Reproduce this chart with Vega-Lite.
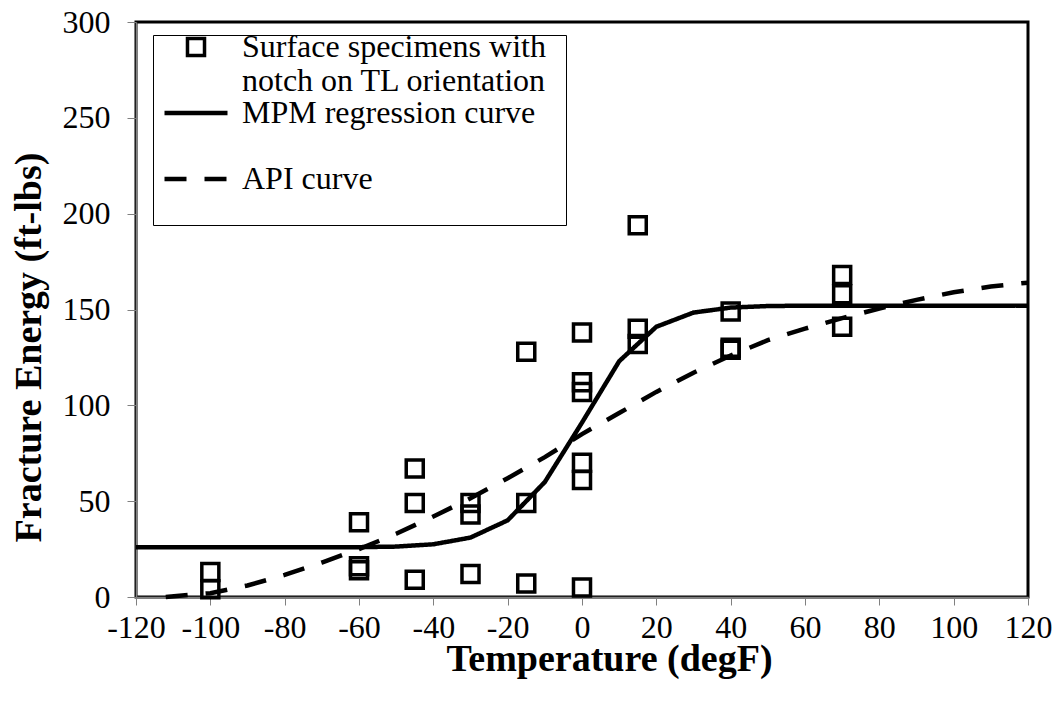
{
  "$schema": "https://vega.github.io/schema/vega-lite/v6.json",
  "width": 892,
  "height": 575,
  "autosize": "none",
  "padding": {"left": 136, "top": 22, "right": 32, "bottom": 106},
  "background": "white",
  "config": {
    "view": {"stroke": "black", "strokeWidth": 3},
    "font": "Liberation Serif",
    "axis": {
      "grid": false,
      "domainColor": "#808080",
      "domainWidth": 1.5,
      "tickColor": "#808080",
      "tickWidth": 1,
      "labelFont": "Liberation Serif",
      "labelFontSize": 32,
      "labelColor": "black",
      "labelOverlap": false,
      "labelFlush": false,
      "titleFont": "Liberation Serif",
      "titleFontSize": 38,
      "titleFontWeight": "bold",
      "titleColor": "black"
    },
    "legend": {
      "symbolSize": {"expr": "datum.value == 'Surface specimens with notch on TL orientation' ? 290 : 3969"},
      "symbolStrokeWidth": {"expr": "datum.value == 'Surface specimens with notch on TL orientation' ? 3.5 : 4.5"},
      "symbolStrokeColor": "black",
      "symbolFillColor": "transparent"
    }
  },
  "datasets": {
    "points": [
      {"series": "Surface specimens with notch on TL orientation", "temp": -100, "energy": 13},
      {"series": "Surface specimens with notch on TL orientation", "temp": -100, "energy": 4},
      {"series": "Surface specimens with notch on TL orientation", "temp": -60, "energy": 39},
      {"series": "Surface specimens with notch on TL orientation", "temp": -60, "energy": 16},
      {"series": "Surface specimens with notch on TL orientation", "temp": -60, "energy": 14},
      {"series": "Surface specimens with notch on TL orientation", "temp": -45, "energy": 67},
      {"series": "Surface specimens with notch on TL orientation", "temp": -45, "energy": 49},
      {"series": "Surface specimens with notch on TL orientation", "temp": -45, "energy": 9},
      {"series": "Surface specimens with notch on TL orientation", "temp": -30, "energy": 49},
      {"series": "Surface specimens with notch on TL orientation", "temp": -30, "energy": 43},
      {"series": "Surface specimens with notch on TL orientation", "temp": -30, "energy": 12},
      {"series": "Surface specimens with notch on TL orientation", "temp": -15, "energy": 128},
      {"series": "Surface specimens with notch on TL orientation", "temp": -15, "energy": 49},
      {"series": "Surface specimens with notch on TL orientation", "temp": -15, "energy": 7},
      {"series": "Surface specimens with notch on TL orientation", "temp": 0, "energy": 138},
      {"series": "Surface specimens with notch on TL orientation", "temp": 0, "energy": 112},
      {"series": "Surface specimens with notch on TL orientation", "temp": 0, "energy": 107},
      {"series": "Surface specimens with notch on TL orientation", "temp": 0, "energy": 70},
      {"series": "Surface specimens with notch on TL orientation", "temp": 0, "energy": 61},
      {"series": "Surface specimens with notch on TL orientation", "temp": 0, "energy": 5},
      {"series": "Surface specimens with notch on TL orientation", "temp": 15, "energy": 194},
      {"series": "Surface specimens with notch on TL orientation", "temp": 15, "energy": 140},
      {"series": "Surface specimens with notch on TL orientation", "temp": 15, "energy": 132},
      {"series": "Surface specimens with notch on TL orientation", "temp": 40, "energy": 149},
      {"series": "Surface specimens with notch on TL orientation", "temp": 40, "energy": 130},
      {"series": "Surface specimens with notch on TL orientation", "temp": 40, "energy": 129},
      {"series": "Surface specimens with notch on TL orientation", "temp": 70, "energy": 168},
      {"series": "Surface specimens with notch on TL orientation", "temp": 70, "energy": 158},
      {"series": "Surface specimens with notch on TL orientation", "temp": 70, "energy": 141}
    ],
    "curves": [
      {"series": "MPM regression curve", "temp": -120, "energy": 26},
      {"series": "MPM regression curve", "temp": -110, "energy": 26},
      {"series": "MPM regression curve", "temp": -100, "energy": 26},
      {"series": "MPM regression curve", "temp": -90, "energy": 26},
      {"series": "MPM regression curve", "temp": -80, "energy": 26},
      {"series": "MPM regression curve", "temp": -70, "energy": 26},
      {"series": "MPM regression curve", "temp": -60, "energy": 26},
      {"series": "MPM regression curve", "temp": -50, "energy": 26.3},
      {"series": "MPM regression curve", "temp": -40, "energy": 27.5},
      {"series": "MPM regression curve", "temp": -30, "energy": 31},
      {"series": "MPM regression curve", "temp": -20, "energy": 40},
      {"series": "MPM regression curve", "temp": -10, "energy": 60},
      {"series": "MPM regression curve", "temp": 0, "energy": 91},
      {"series": "MPM regression curve", "temp": 10, "energy": 123},
      {"series": "MPM regression curve", "temp": 20, "energy": 141},
      {"series": "MPM regression curve", "temp": 30, "energy": 148.4},
      {"series": "MPM regression curve", "temp": 40, "energy": 151},
      {"series": "MPM regression curve", "temp": 50, "energy": 151.8},
      {"series": "MPM regression curve", "temp": 60, "energy": 152},
      {"series": "MPM regression curve", "temp": 70, "energy": 152},
      {"series": "MPM regression curve", "temp": 80, "energy": 152},
      {"series": "MPM regression curve", "temp": 90, "energy": 152},
      {"series": "MPM regression curve", "temp": 100, "energy": 152},
      {"series": "MPM regression curve", "temp": 110, "energy": 152},
      {"series": "MPM regression curve", "temp": 120, "energy": 152},
      {"series": "API curve", "temp": -112, "energy": 0},
      {"series": "API curve", "temp": -100, "energy": 2},
      {"series": "API curve", "temp": -90, "energy": 6},
      {"series": "API curve", "temp": -80, "energy": 11.5},
      {"series": "API curve", "temp": -70, "energy": 18},
      {"series": "API curve", "temp": -60, "energy": 25},
      {"series": "API curve", "temp": -50, "energy": 33},
      {"series": "API curve", "temp": -40, "energy": 42},
      {"series": "API curve", "temp": -30, "energy": 51.5},
      {"series": "API curve", "temp": -20, "energy": 62},
      {"series": "API curve", "temp": -10, "energy": 73},
      {"series": "API curve", "temp": 0, "energy": 85},
      {"series": "API curve", "temp": 10, "energy": 96},
      {"series": "API curve", "temp": 20, "energy": 107},
      {"series": "API curve", "temp": 30, "energy": 117},
      {"series": "API curve", "temp": 40, "energy": 126},
      {"series": "API curve", "temp": 50, "energy": 134},
      {"series": "API curve", "temp": 60, "energy": 140},
      {"series": "API curve", "temp": 70, "energy": 145.5},
      {"series": "API curve", "temp": 80, "energy": 150.5},
      {"series": "API curve", "temp": 90, "energy": 155},
      {"series": "API curve", "temp": 100, "energy": 159},
      {"series": "API curve", "temp": 110, "energy": 162},
      {"series": "API curve", "temp": 120, "energy": 164}
    ]
  },
  "encoding": {
    "x": {
      "field": "temp", "type": "quantitative",
      "scale": {"domain": [-120, 120], "nice": false, "zero": false},
      "axis": {"values": [-120,-100,-80,-60,-40,-20,0,20,40,60,80,100,120], "labelExpr": "'' + datum.value", "labelOverlap": false, "labelFlush": false, "tickSize": 8, "labelPadding": 7, "title": "Temperature (degF)", "titlePadding": -3, "titleX": 473}
    },
    "y": {
      "field": "energy", "type": "quantitative",
      "scale": {"domain": [0, 300], "nice": false},
      "axis": {"values": [0,50,100,150,200,250,300], "labelExpr": "'' + datum.value", "labelFlush": false, "tickSize": 9, "labelPadding": 17, "title": "Fracture Energy (ft-lbs)", "titlePadding": 14, "titleY": 325}
    }
  },
  "layer": [
    {
      "data": {"name": "curves"},
      "mark": {"type": "line", "color": "black", "strokeWidth": 4.5, "strokeCap": "butt"},
      "encoding": {
        "strokeDash": {
          "field": "series", "type": "nominal",
          "scale": {"domain": ["Surface specimens with notch on TL orientation", "MPM regression curve", "API curve"], "range": [[1, 0], [1, 0], [22, 18]]},
          "legend": {
            "title": null, "orient": "none", "legendX": 17, "legendY": 13,
            "labelFont": "Liberation Serif", "labelFontSize": 32, "labelColor": "black", "labelLineHeight": 35,
            "labelExpr": "datum.value == 'Surface specimens with notch on TL orientation' ? ['Surface specimens with', 'notch on TL orientation\u2800'] : [datum.label, '']",
            "strokeColor": "black", "fillColor": "white", "padding": -4, "rowPadding": -7, "symbolOffset": 31, "labelOffset": 30, "labelLimit": 600
          }
        }
      }
    },
    {
      "data": {"name": "points"},
      "mark": {"type": "point", "filled": false, "color": "black", "strokeWidth": 3.5, "size": 290, "opacity": 1},
      "encoding": {
        "shape": {
          "field": "series", "type": "nominal",
          "scale": {"domain": ["Surface specimens with notch on TL orientation", "MPM regression curve", "API curve"], "range": ["square", "stroke", "stroke"]},
          "legend": {
            "title": null, "orient": "none", "legendX": 17, "legendY": 13,
            "labelFont": "Liberation Serif", "labelFontSize": 32, "labelColor": "black", "labelLineHeight": 35,
            "labelExpr": "datum.value == 'Surface specimens with notch on TL orientation' ? ['Surface specimens with', 'notch on TL orientation\u2800'] : [datum.label, '']",
            "strokeColor": "black", "fillColor": "white", "padding": -4, "rowPadding": -7, "symbolOffset": 31, "labelOffset": 30, "labelLimit": 600
          }
        }
      }
    }
  ]
}
